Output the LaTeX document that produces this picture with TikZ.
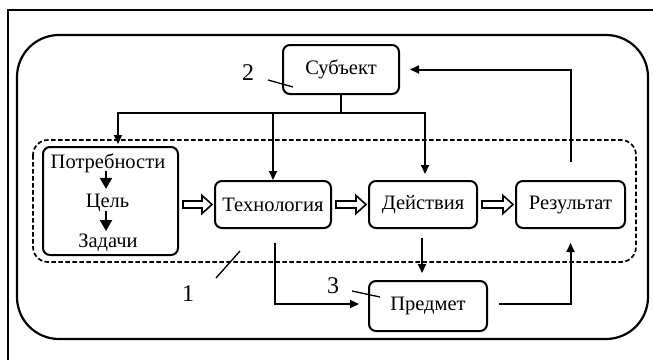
\documentclass[tikz,border=0pt]{standalone}
\usepackage{fontspec}
\setmainfont{Liberation Serif}
\usetikzlibrary{arrows.meta,calc}
\newcommand\holarrow[2]{%
  \draw[hol] ($(#1.east |- #2.west)+(4,-3.5)$) -- ($(#2.west)+(-12,-3.5)$) --
    ($(#2.west)+(-12,-9)$) -- ($(#2.west)+(-2,0)$) -- ($(#2.west)+(-12,9)$) --
    ($(#2.west)+(-12,3.5)$) -- ($(#1.east |- #2.west)+(4,3.5)$) -- cycle;}
\begin{document}
\begin{tikzpicture}[x=1pt,y=-1pt,
  font=\fontsize{20.5}{22}\selectfont,
  box/.style={draw, line width=2pt, rounded corners=7pt, inner sep=0pt},
  txt/.style={inner sep=0pt},
  lbl/.style={font=\fontsize{24}{26}\selectfont, inner sep=0pt},
  conn/.style={line width=2pt, -{Triangle[length=9pt,width=8pt]}},
  plain/.style={line width=2pt},
  small/.style={line width=2pt, -{Triangle[length=11pt,width=12pt]}},
  hol/.style={line width=1.6pt, line join=miter},
  pointer/.style={line width=1.3pt}]
\useasboundingbox (0,0) rectangle (653,359);
\clip (0,0) rectangle (653,359);
% outer frame
\draw[line width=2.4pt] (8,10) rectangle (662,370);
% rounded outer boundary
\draw[line width=2.2pt, rounded corners=42pt] (17,35) rectangle (648,339);
% dashed inner boundary
\draw[line width=1.7pt, dash pattern=on 4.5pt off 2.5pt, rounded corners=15pt] (33,140) rectangle (636,262);

% nodes
\node[box, minimum width=116pt, minimum height=49pt] (subj) at (341,69.5) {Субъект};
\node[box, minimum width=135pt, minimum height=108pt] (need) at (110.5,201) {};
\node[txt] (potr) at (108,163) {Потребности};
\node[txt] (cel) at (107.5,203) {Цель};
\node[txt] (zad) at (108,243) {Задачи};
\node[box, minimum width=116pt, minimum height=47pt] (tech) at (273,204.5) {Технология};
\node[box, minimum width=108pt, minimum height=47pt] (dei) at (423,204.5) {Действия};
\node[box, minimum width=109pt, minimum height=47pt] (res) at (570.5,204.5) {Результат};
\node[box, minimum width=118pt, minimum height=50pt] (pred) at (428,306) {Предмет};

% labels
\node[lbl] (n2) at (248,73) {2};
\node[lbl] (n1) at (188,294) {1};
\node[lbl] (n3) at (333,286) {3};
\coordinate (p2) at (268,80);
\coordinate (q2) at (293,87);
\coordinate (p1) at (216,278);
\coordinate (q1) at (240,251);
\coordinate (p3) at (352,291);
\coordinate (q3) at (380,297);
\draw[pointer] (p2) -- (q2);
\draw[pointer] (p1) -- (q1);
\draw[pointer] (p3) -- (q3);

% subject distribution
\coordinate (j) at (341,113);
\coordinate (jl) at (118,113);
\coordinate (jr) at (425,113);
\draw[plain] (subj.south) -- (j);
\draw[plain, line cap=rect] (jl) -- (jr);
\draw[conn, shorten >=2pt] (jl) -- (jl |- need.north);
\draw[conn] (tech.north |- jl) -- (tech.north);
\draw[conn, shorten >=6pt] (jr) -- (jr |- dei.north);
% feedback
\draw[conn, shorten <=18pt, shorten >=10pt] (res.north) -- (res.north |- subj.east) -- (subj.east);
% inner small arrows
\draw[small, shorten <=-2pt, shorten >=5pt] (potr.south -| 106,0) -- (cel.north -| 106,0);
\draw[small, shorten <=-1pt, shorten >=3pt] (cel.south -| 106,0) -- (zad.north -| 106,0);
% hollow arrows
\holarrow{need}{tech}
\holarrow{tech}{dei}
\holarrow{dei}{res}
% lower arrows
\draw[conn, shorten <=9pt, shorten >=7pt] ([xshift=-1pt]dei.south) -- ([xshift=-1pt]dei.south |- pred.north);
\draw[conn, shorten <=14pt, shorten >=9pt] ([xshift=2pt]tech.south) |- ([yshift=2pt]pred.west);
\draw[conn, shorten <=11pt, shorten >=14pt] ([yshift=2pt]pred.east) -| (res.south);
\end{tikzpicture}
\end{document}
